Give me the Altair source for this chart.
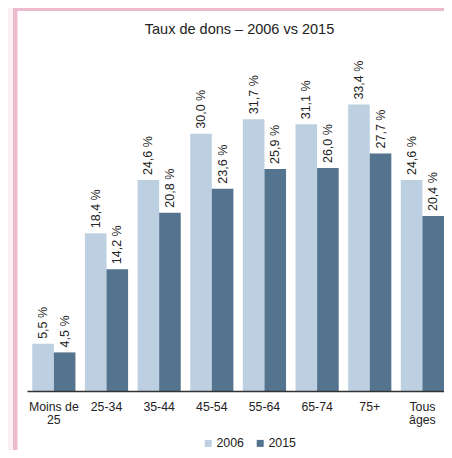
import altair as alt
import pandas as pd

categories = ["Moins de 25", "25-34", "35-44", "45-54", "55-64", "65-74", "75+", "Tous âges"]
years = ["2006", "2015"]
values_2006 = [5.5, 18.4, 24.6, 30.0, 31.7, 31.1, 33.4, 24.6]
values_2015 = [4.5, 14.2, 20.8, 23.6, 25.9, 26.0, 27.7, 20.4]
colors = ["#bcd0e1", "#54738f"]

rows = []
for cat, v06, v15 in zip(categories, values_2006, values_2015):
    for yr, v in ((years[0], v06), (years[1], v15)):
        rows.append({"cat": cat, "year": yr, "value": v,
                     "label": f"{v:.1f}".replace(".", ",") + " %"})
df = pd.DataFrame(rows)

FONT = "Liberation Sans"
one = pd.DataFrame({"a": [0]})

border = alt.Chart(one).mark_rect(fill="#ecbbd0").encode(
    x=alt.value(-14), x2=alt.value(417), y=alt.value(-40), y2=alt.value(402)
)
panel = alt.Chart(one).mark_rect(fill="white").encode(
    x=alt.value(-9.5), x2=alt.value(417), y=alt.value(-37), y2=alt.value(402)
)

base = alt.Chart(df).encode(
    x=alt.X("cat:N", sort=categories,
            scale=alt.Scale(paddingInner=0.18, paddingOuter=0.05, align=1),
            axis=alt.Axis(title=None, labelAngle=0, ticks=False, domainColor="#333333",
                          domainWidth=1.5, labelFont=FONT, labelFontSize=12.3,
                          labelColor="#222222", labelPadding=9, labelLineHeight=13.5,
                          zindex=1,
                          labelExpr="datum.label == 'Moins de 25' ? ['Moins de', '25'] : datum.label == 'Tous âges' ? ['Tous', 'âges'] : datum.label")),
    xOffset=alt.XOffset("year:N", sort=years, scale=alt.Scale(paddingInner=0, paddingOuter=0)),
    y=alt.Y("value:Q", scale=alt.Scale(domain=[0, 40], nice=False), axis=None),
)

bars = base.mark_bar().encode(
    color=alt.Color("year:N", sort=years,
                    scale=alt.Scale(domain=years, range=colors),
                    legend=alt.Legend(title=None, orient="none", legendX=175, legendY=389,
                                      direction="horizontal", symbolType="square",
                                      symbolSize=49, symbolStrokeWidth=0, padding=0,
                                      labelFont=FONT, labelFontSize=12.4, labelColor="#222222",
                                      columnPadding=10, labelOffset=2, zindex=1))
)

labels = base.mark_text(angle=270, align="left", baseline="middle", dx=5,
                        font=FONT, fontSize=12.5, color="#222222").encode(
    text="label:N"
)

chart = alt.layer(border, panel, bars, labels).properties(
    width=417, height=343,
    padding={"left": 19, "top": 40, "right": 0, "bottom": 59},
    autosize=alt.AutoSizeParams(type="none"),
    title=alt.TitleParams("Taux de dons – 2006 vs 2015", font=FONT, fontSize=14.5,
                          fontWeight="normal", color="#222222", anchor="middle",
                          frame="group", offset=0, baseline="middle", dy=36, dx=4),
    background="#fcf0f5",
).configure_view(stroke="transparent")

chart.save("out.html", embed_options={"renderer": "svg", "actions": False})
